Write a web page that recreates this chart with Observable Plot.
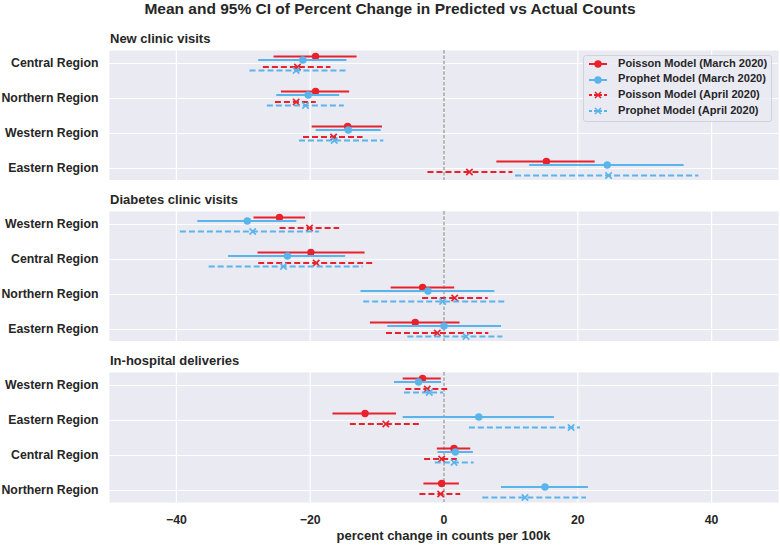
<!DOCTYPE html>
<html><head><meta charset="utf-8">
<script src="https://cdn.jsdelivr.net/npm/d3@7"></script>
<script src="https://cdn.jsdelivr.net/npm/@observablehq/plot@0.6"></script>
<style>
body{margin:0;background:#fff;font-family:"Liberation Sans",Arial,sans-serif;color:#262626}
#chart{position:relative;width:780px;height:545px;overflow:hidden}
.abs{position:absolute;white-space:nowrap;line-height:1;font-weight:bold}
svg{display:block}
</style></head><body><div id="chart"></div><script>
// ---- data ----
const seriesNames = ["Poisson Model (March 2020)", "Prophet Model (March 2020)", "Poisson Model (April 2020)", "Prophet Model (April 2020)"];
const xTicks = [-40, -20, 0, 20, 40];

const newClinicRegions = ["Central Region", "Northern Region", "Western Region", "Eastern Region"];
// per region: [PoissonMar, ProphetMar, PoissonApr, ProphetApr]
const newClinicMean = [[-19.2, -21.1, -21.9, -22.1], [-19.2, -20.3, -22.1, -20.7], [-14.4, -14.3, -16.5, -16.4], [15.3, 24.4, 3.8, 24.6]];
const newClinicLow  = [[-25.4, -27.7, -27.0, -29.0], [-24.3, -25.0, -25.2, -26.4], [-19.7, -19.1, -21.0, -21.6], [7.9, 12.8, -2.4, 10.7]];
const newClinicHigh = [[-13.0, -14.5, -16.9, -14.3], [-14.1, -15.6, -19.1, -14.9], [-9.2, -9.4, -12.1, -9.0], [22.6, 35.9, 10.3, 38.1]];

const diabetesRegions = ["Western Region", "Central Region", "Northern Region", "Eastern Region"];
const diabetesMean = [[-24.6, -29.4, -20.1, -28.6], [-19.9, -23.4, -19.1, -24.0], [-3.2, -2.4, 1.6, -0.2], [-4.3, 0.0, -1.0, 3.3]];
const diabetesLow  = [[-28.4, -36.8, -24.5, -39.4], [-27.8, -32.2, -27.7, -35.1], [-7.9, -12.4, -3.2, -12.0], [-11.0, -8.4, -8.6, -5.4]];
const diabetesHigh = [[-20.7, -22.0, -15.6, -18.6], [-11.8, -14.7, -10.4, -12.1], [1.6, 7.6, 6.6, 9.4], [2.4, 8.6, 6.7, 8.8]];

const deliveryRegions = ["Western Region", "Eastern Region", "Central Region", "Northern Region"];
const deliveryMean = [[-3.2, -3.8, -2.5, -2.2], [-11.8, 5.2, -8.7, 19.0], [1.5, 1.7, -0.35, 1.5], [-0.35, 15.1, -0.5, 12.1]];
const deliveryLow  = [[-6.1, -7.4, -5.7, -5.9], [-16.6, -6.1, -14.0, 3.8], [-1.0, -0.9, -2.9, -1.3], [-3.0, 8.6, -3.6, 5.8]];
const deliveryHigh = [[-0.4, -0.35, 0.55, -0.05], [-7.1, 16.5, -3.4, 20.4], [4.0, 4.4, 2.0, 4.5], [2.3, 21.6, 2.5, 21.3]];

// ---- styles ----
const RED = "#e8212b", BLUE = "#5ab4ec";
const seriesStyle = [
  {color: RED,  dash: null,  symbol: "circle", dy: -7},
  {color: BLUE, dash: null,  symbol: "circle", dy: -3.5},
  {color: RED,  dash: "6,3", symbol: "times",  dy: 3.5},
  {color: BLUE, dash: "6,3", symbol: "times",  dy: 7}
];

const chart = document.getElementById("chart");
function place(el, left, top) { el.style.position = "absolute"; el.style.left = left + "px"; el.style.top = top + "px"; chart.appendChild(el); }
function label(text, left, top, size, extra) {
  const d = document.createElement("div"); d.className = "abs"; d.textContent = text;
  d.style.fontSize = size + "px"; Object.assign(d.style, extra || {}); place(d, left, top); return d;
}

function panel(regions, mean, lo, hi, withAxis) {
  const rows = [];
  regions.forEach((r, i) => seriesNames.forEach((s, j) => rows.push({region: r, k: j, mean: mean[i][j], lo: lo[i][j], hi: hi[i][j]})));
  const marks = [
    Plot.frame({fill: "#eaeaf2", stroke: "none"}),
    Plot.ruleX(xTicks, {stroke: "#fff", strokeWidth: 1.2}),
    Plot.ruleY(regions, {stroke: "#fff", strokeWidth: 1.2}),
    Plot.ruleX([0], {stroke: "#7a7a7a", strokeWidth: 1, strokeDasharray: "3.7,1.6"})
  ];
  seriesStyle.forEach((st, j) => {
    const d = rows.filter(r => r.k === j);
    marks.push(Plot.ruleY(d, {y: "region", x1: "lo", x2: "hi", stroke: st.color, strokeWidth: 2, strokeDasharray: st.dash, dy: st.dy}));
    if (st.symbol === "circle") marks.push(Plot.dot(d, {x: "mean", y: "region", r: 3.7, fill: st.color, stroke: "none", dy: st.dy}));
    else marks.push(Plot.dot(d, {x: "mean", y: "region", symbol: "times", r: 3, stroke: st.color, strokeWidth: 1.6, dy: st.dy}));
  });
  return Plot.plot({
    width: 780, height: withAxis ? 173 : 130,
    marginLeft: 109, marginRight: 2, marginTop: 0, marginBottom: withAxis ? 43 : 0,
    style: {fontFamily: "'Liberation Sans', Arial, sans-serif", fontSize: "12.3px", fontWeight: "bold", color: "#262626", background: "transparent"},
    x: {domain: [-50, 50], ticks: xTicks, tickSize: 0, tickPadding: 13, label: null, axis: withAxis ? "bottom" : null},
    y: {type: "point", domain: regions, padding: 0.34, tickSize: 0, tickPadding: 11, label: null},
    marks
  });
}

// title
label("Mean and 95% CI of Percent Change in Predicted vs Actual Counts", 0, 1, 15.5, {width: "780px", textAlign: "center"});

label("New clinic visits", 110, 32, 13);
place(panel(newClinicRegions, newClinicMean, newClinicLow, newClinicHigh, false), 0, 50);
label("Diabetes clinic visits", 110, 193, 13);
place(panel(diabetesRegions, diabetesMean, diabetesLow, diabetesHigh, false), 0, 211);
label("In-hospital deliveries", 110, 354, 13);
place(panel(deliveryRegions, deliveryMean, deliveryLow, deliveryHigh, true), 0, 372);

label("percent change in counts per 100k", 109, 529, 13, {width: "669px", textAlign: "center"});

// legend
const leg = document.createElement("div");
Object.assign(leg.style, {width: "189px", height: "67px", background: "rgba(234,234,242,0.8)", border: "1px solid #d2d2da", borderRadius: "3px", boxSizing: "border-box"});
place(leg, 583, 55);
const rowY = [64, 79.5, 95, 111];
seriesNames.forEach((name, j) => {
  const st = seriesStyle[j];
  const svg = d3.create("svg").attr("width", 22).attr("height", 12);
  svg.append("line").attr("x1", 1).attr("x2", 19).attr("y1", 6).attr("y2", 6)
    .attr("stroke", st.color).attr("stroke-width", 2).attr("stroke-dasharray", st.dash ? "3,2" : null);
  if (st.symbol === "circle") svg.append("circle").attr("cx", 10).attr("cy", 6).attr("r", 3.7).attr("fill", st.color);
  else svg.append("path").attr("d", "M7,3L13,9M13,3L7,9").attr("stroke", st.color).attr("stroke-width", 1.6);
  place(svg.node(), 588, rowY[j] - 6);
  label(name, 618, rowY[j] - 6.5, 11.1);
});
</script></body></html>
